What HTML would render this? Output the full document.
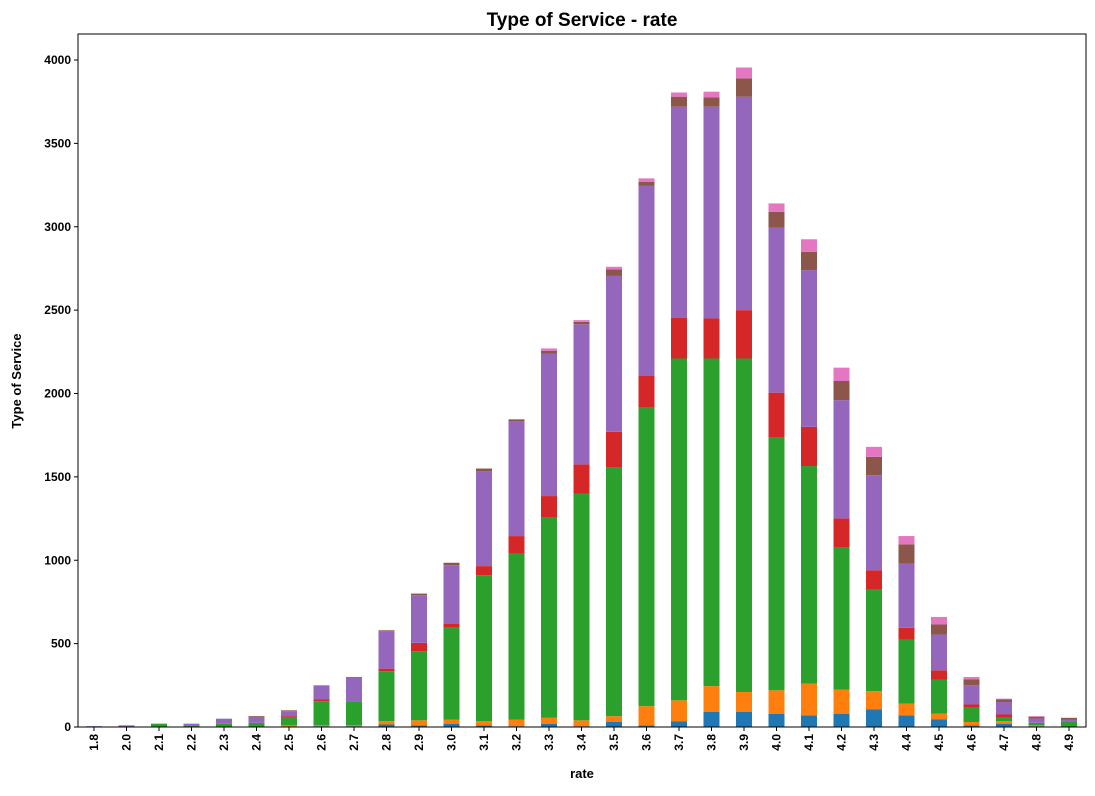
<!DOCTYPE html>
<html><head><meta charset="utf-8"><style>
body{margin:0;background:#fff;font-family:"Liberation Sans",sans-serif}
svg text{font-family:"Liberation Sans",sans-serif;font-weight:bold}
</style></head><body>
<svg id="c" width="1095" height="791"></svg>
<script>
const categories=["1.8","2.0","2.1","2.2","2.3","2.4","2.5","2.6","2.7","2.8","2.9","3.0","3.1","3.2","3.3","3.4","3.5","3.6","3.7","3.8","3.9","4.0","4.1","4.2","4.3","4.4","4.5","4.6","4.7","4.8","4.9"];
const seriesBlue  =[0,0,0,0,0,0,0,5,5,15,10,20,10,5,20,5,30,10,35,90,90,80,70,80,105,70,45,10,20,5,0];
const seriesOrange=[0,0,0,0,0,0,10,5,5,20,30,25,25,40,35,35,35,115,125,155,120,140,190,145,110,70,35,20,15,5,0];
const seriesGreen =[0,2,20,10,20,25,50,145,145,300,415,550,875,995,1200,1360,1490,1790,2050,1965,2000,1515,1305,850,610,385,205,85,25,15,30];
const seriesRed   =[0,0,0,0,0,0,5,10,0,15,50,25,55,105,130,175,215,190,245,240,290,270,235,175,115,70,55,20,15,0,0];
const seriesPurple=[5,8,0,10,30,35,30,85,140,225,285,350,570,690,855,840,935,1140,1265,1270,1280,990,940,710,570,385,215,115,75,25,15];
const seriesBrown =[0,0,0,0,0,5,5,0,5,5,10,15,15,10,15,15,40,25,60,55,110,95,110,115,110,115,60,35,15,10,10];
const seriesPink  =[0,0,0,0,0,0,0,0,0,0,0,0,0,0,15,10,15,20,25,35,65,50,75,80,60,50,45,15,5,5,0];
const series=[seriesBlue,seriesOrange,seriesGreen,seriesRed,seriesPurple,seriesBrown,seriesPink];
const seriesNames=["blue","orange","green","red","purple","brown","pink"];
const colors=["#1f77b4","#ff7f0e","#2ca02c","#d62728","#9467bd","#8c564b","#e377c2"];
const yTicks=[0,500,1000,1500,2000,2500,3000,3500,4000];

const svg=document.getElementById('c');const NS="http://www.w3.org/2000/svg";
const L=78,R=1086,T=34,B=727;
const yS=v=>B-v*(667/4000);
const xS=i=>94+i*32.5;
function mk(tag,attrs,parent){const e=document.createElementNS(NS,tag);for(const k in attrs)e.setAttribute(k,attrs[k]);(parent||svg).appendChild(e);return e;}
const bars=mk('g',{});


categories.forEach((c,i)=>{let cum=0;series.forEach((s,j)=>{const v=s[i];if(v>0){const r=mk('rect',{x:xS(i)-8,y:yS(cum+v),width:16,height:yS(cum)-yS(cum+v),fill:colors[j]},bars);

}cum+=v;});});
const frame=mk('rect',{x:L,y:T,width:R-L,height:B-T,fill:'none',stroke:'#000','stroke-width':1});


yTicks.forEach(t=>{const y=yS(t);mk('line',{x1:L-4,x2:L,y1:y,y2:y,stroke:'#000'});
const tx=mk('text',{x:L-7,y:y+4,'text-anchor':'end','font-size':12});tx.textContent=t;

});
categories.forEach((c,i)=>{const x=xS(i);mk('line',{x1:x,x2:x,y1:B,y2:B+4,stroke:'#000'});
const tx=mk('text',{x:0,y:0,'text-anchor':'end','font-size':12,transform:`translate(${x+4},${B+7}) rotate(-90)`});tx.textContent=c;

});
const title=mk('text',{x:582,y:26,'text-anchor':'middle','font-size':19});title.textContent="Type of Service - rate";


const xl=mk('text',{x:582,y:778,'text-anchor':'middle','font-size':13});xl.textContent="rate";


const yl=mk('text',{x:0,y:0,'text-anchor':'middle','font-size':13,transform:'translate(21,381) rotate(-90)'});yl.textContent="Type of Service";


</script>
</body></html>
